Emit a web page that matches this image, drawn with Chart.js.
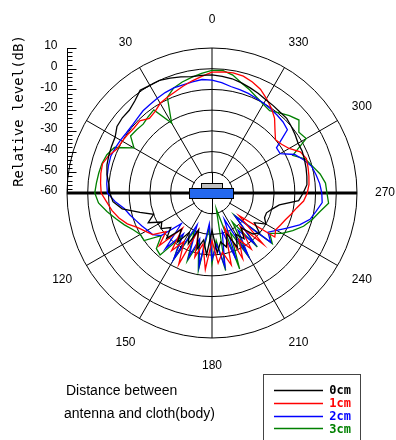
<!DOCTYPE html>
<html>
<head>
<meta charset="utf-8">
<script src="https://cdn.jsdelivr.net/npm/chart.js@4.4.1/dist/chart.umd.min.js"></script>
<style>
  html, body { margin: 0; padding: 0; background: #fff; }
  canvas { display: block; }
</style>
</head>
<body>
<canvas id="pattern" width="396" height="440"></canvas>
<script>
// angulos (grados, sentido antihorario desde arriba)
const angles = [0, 5, 10, 15, 20, 25, 30, 35, 40, 45, 50, 55, 60, 65, 70, 75, 80, 85,
  90, 95, 100, 105, 110, 115, 120, 125, 130, 135, 140, 145, 150, 155, 160, 165, 170, 175,
  180, 185, 190, 195, 200, 205, 210, 215, 220, 225, 230, 235, 240, 245, 250, 255, 260, 265,
  270, 275, 280, 285, 290, 295, 300, 305, 310, 315, 320, 325, 330, 335, 340, 345, 350, 355];

// nivel relativo (dB) por distancia
const level0cm = [-3, -3, -3, -2, -1, 0, 0, 0.5, -2, -3.5, -3.5, -4, -6, -6.5, -7, -7.5, -8.5, -10,
  -10.7, -12, -16, -24, -30, -26, -32, -30, -34, -29, -37, -31, -38, -33, -41, -32, -37, -30,
  -42, -31, -36, -33, -39, -31, -37, -33, -38, -32, -30, -35, -30, -32, -32, -30, -27, -18,
  -16, -14, -13.5, -13, -12.5, -12, -12, -11, -10, -9, -9, -8.5, -8, -7, -6, -5, -4, -3.5];
const level1cm = [-1.6, -3.5, -5, -6.5, -8, -9, -10, -12, -13, -10.7, -11, -10.5, -10, -9.5, -7, -5.3, -5.5, -6,
  -6.5, -9, -11, -13.5, -16.5, -20.5, -23, -25, -31, -24, -38, -26, -33, -22, -41, -28, -35, -23,
  -37, -26, -31, -24, -42, -25, -34, -27, -39, -25, -43, -23, -24.5, -23.5, -22.3, -20.5, -18.5, -15.6,
  -14, -13, -12.5, -12, -11.5, -13, -17, -19, -20, -17, -13, -10, -7.4, -4.7, -3, -1.6, -1.1, -1.3];
const level2cm = [-5.5, -5, -5.5, -6, -6, -6.5, -7.2, -7.8, -8.2, -9, -9.5, -9.5, -9, -8.5, -8, -8.3, -8.7, -9,
  -9.5, -13, -17, -19, -21, -22.5, -24, -25, -28, -39, -25, -36, -23, -43, -27, -37, -24, -45,
  -28, -35, -24, -41, -26, -46, -25, -38, -28, -44, -23, -27, -24, -20, -15, -11, -9, -6.6,
  -7, -7.8, -9, -10.2, -13, -16, -22, -22, -12.5, -11.5, -11, -10.5, -10, -9.5, -8.8, -8.3, -7.8, -6.5];
const level3cm = [-0.8, -2, -3.3, -4.5, -6, -9, -21, -11, -12, -13, -12.5, -12, -16.5, -8, -6, -5, -4.5, -4,
  -3.4, -5, -8.5, -12, -15, -18, -20, -20, -28, -22, -21, -34, -23, -40, -25, -35, -22, -43,
  -26, -37, -22, -52, -21, -39, -24, -43, -26, -45, -22, -26, -21, -17, -13, -10, -7.3, -3.5,
  -4.5, -5, -7, -9.8, -12, -17, -7.5, -8.8, -5.2, -7.2, -9.5, -11.5, -10.5, -9, -7, -5, -2.2, -0.6];

const seriesNames = ['0cm', '1cm', '2cm', '3cm'];
const seriesColors = ['#000000', '#ff0000', '#0000ff', '#008000'];
const levelTicks = [10, 0, -10, -20, -30, -40, -50, -60];
const spokeAngles = [0, 30, 60, 90, 120, 150, 180, 210, 240, 270, 300, 330];
const shownAngleLabels = [0, 30, 120, 150, 180, 210, 240, 270, 300, 330];

// el radar va en sentido horario, el diagrama en antihorario
const order = angles.map((a, i) => (angles.length - i) % angles.length);
const labels = order.map(k => angles[k]);
const pick = s => order.map(k => s[k]);

const extras = {
  id: 'extras',
  beforeDatasetsDraw(chart) {
    const ctx = chart.ctx;
    const r = chart.scales.r;
    const r1 = r.getDistanceFromCenterForValue(-50);
    ctx.save();
    ctx.fillStyle = '#fff';
    ctx.beginPath();
    ctx.arc(r.xCenter, r.yCenter, r1 - 1, 0, Math.PI * 2);
    ctx.fill();
    ctx.strokeStyle = '#000';
    ctx.lineWidth = 1;
    ctx.beginPath();
    ctx.moveTo(r.xCenter + 0.5, r.yCenter - r1);
    ctx.lineTo(r.xCenter + 0.5, r.yCenter + r1);
    ctx.stroke();
    ctx.restore();
  },
  afterDatasetsDraw(chart) {
    const ctx = chart.ctx;
    const r = chart.scales.r;
    const cx = r.xCenter, cy = r.yCenter;
    ctx.save();

    // antena en el centro
    ctx.fillStyle = '#c0c0c0';
    ctx.strokeStyle = '#000';
    ctx.lineWidth = 1;
    ctx.fillRect(cx - 11, cy - 10, 22, 5);
    ctx.strokeRect(cx - 10.5, cy - 9.5, 21, 5);
    ctx.fillStyle = '#2468ee';
    ctx.fillRect(cx - 23, cy - 5, 45, 11);
    ctx.strokeRect(cx - 22.5, cy - 4.5, 44, 10);

    // etiquetas de angulo
    ctx.fillStyle = '#000';
    ctx.font = '12px "Liberation Sans", Arial, sans-serif';
    ctx.textAlign = 'center';
    ctx.textBaseline = 'middle';
    labels.forEach((lab, i) => {
      if (!shownAngleLabels.includes(lab)) return;
      const p = r.getPointPosition(i, r.drawingArea + 28);
      ctx.fillText(String(lab), p.x, p.y);
    });

    // eje de nivel a la izquierda
    const ax = Math.round(cx - r.drawingArea) + 0.5;
    const yOf = v => cy - r.getDistanceFromCenterForValue(v);
    ctx.beginPath();
    ctx.moveTo(ax, yOf(10));
    ctx.lineTo(ax, cy);
    for (let v = 10; v >= -60; v -= 2) {
      const y = Math.round(yOf(v)) + 0.5;
      const len = v % 10 === 0 ? 9 : 5;
      ctx.moveTo(ax, y);
      ctx.lineTo(ax + len, y);
    }
    ctx.stroke();
    ctx.textAlign = 'right';
    levelTicks.forEach(v => {
      ctx.fillText(String(v), ax - 10, yOf(v) - 2);
    });

    ctx.save();
    ctx.translate(19, 111);
    ctx.rotate(-Math.PI / 2);
    ctx.textAlign = 'center';
    ctx.font = '14px "DejaVu Sans Mono", monospace';
    ctx.fillText('Relative level(dB)', 0, 0);
    ctx.restore();

    // texto inferior
    ctx.textAlign = 'left';
    ctx.font = '14px "Liberation Sans", Arial, sans-serif';
    ctx.fillText('Distance between', 66, 391);
    ctx.fillText('antenna and cloth(body)', 64, 414);

    // leyenda
    ctx.strokeStyle = '#444';
    ctx.strokeRect(263.5, 374.5, 97, 70);
    ctx.font = 'bold 12px "DejaVu Sans Mono", monospace';
    ctx.textAlign = 'right';
    chart.data.datasets.forEach((ds, i) => {
      const y = 390 + i * 12.8;
      ctx.strokeStyle = ds.borderColor;
      ctx.lineWidth = 1.5;
      ctx.beginPath();
      ctx.moveTo(274, Math.round(y) + 0.5);
      ctx.lineTo(323, Math.round(y) + 0.5);
      ctx.stroke();
      ctx.fillStyle = ds.borderColor;
      ctx.fillText(ds.label, 351, y + 1);
    });
    ctx.restore();
  }
};

const allLevels = [level0cm, level1cm, level2cm, level3cm];

new Chart(document.getElementById('pattern'), {
  type: 'radar',
  data: {
    labels: labels,
    datasets: allLevels.map((s, i) => ({
      label: seriesNames[i],
      data: pick(s),
      borderColor: seriesColors[i],
      borderWidth: 1.3,
      pointRadius: 0,
      fill: false,
      tension: 0
    }))
  },
  options: {
    responsive: false,
    animation: false,
    layout: { padding: { left: 67, right: 39, top: 48, bottom: 102 } },
    plugins: {
      legend: { display: false },
      tooltip: { enabled: false }
    },
    scales: {
      r: {
        min: -60,
        max: 10,
        ticks: { display: false, stepSize: 10 },
        pointLabels: { display: false },
        grid: { color: '#000', lineWidth: 1, circular: true },
        angleLines: {
          color: ctx => spokeAngles.includes(ctx.label) ? '#000' : 'transparent',
          lineWidth: ctx => (ctx.label === 90 || ctx.label === 270) ? 3 : 1
        }
      }
    }
  },
  plugins: [extras]
});
</script>
</body>
</html>
